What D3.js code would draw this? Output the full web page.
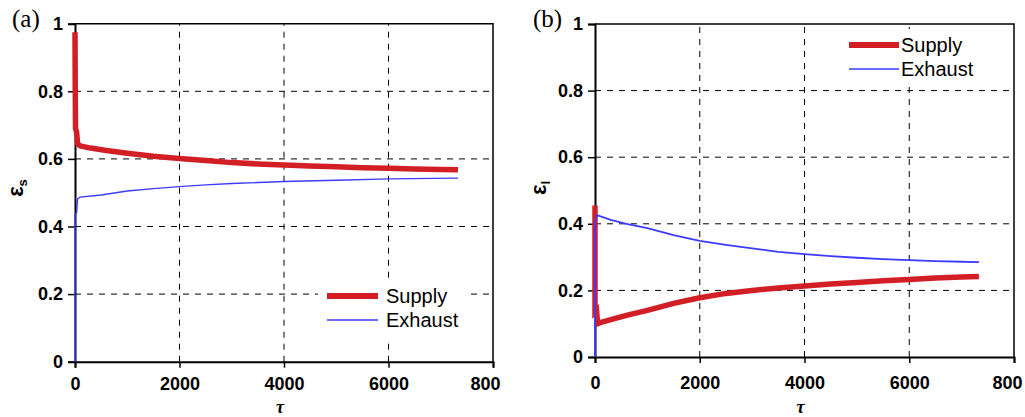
<!DOCTYPE html>
<html>
<head>
<meta charset="utf-8">
<script src="https://cdn.jsdelivr.net/npm/d3@7"></script>
<style>
  html, body { margin: 0; padding: 0; background: #fff; }
  svg { display: block; }
</style>
</head>
<body>
<svg id="chart" width="1025" height="417"></svg>
<script>
// ---- data ----
const xTicks = [0, 2000, 4000, 6000, 8000];
const xTickLabels = ["0", "2000", "4000", "6000", "800"];
const yTicks = [0, 0.2, 0.4, 0.6, 0.8, 1];
const yTickLabels = ["0", "0.2", "0.4", "0.6", "0.8", "1"];
const seriesNames = ["Supply", "Exhaust"];

// panel (a): sensible effectiveness
const aSupplyTau = [0, 5, 10, 30, 50, 100, 300, 600, 1000, 1500, 2000, 2500, 3000, 3500, 4000, 4500, 5000, 5500, 6000, 6500, 7000, 7330];
const aSupplyEps = [0.975, 0.80, 0.69, 0.68, 0.645, 0.638, 0.632, 0.625, 0.617, 0.608, 0.601, 0.595, 0.589, 0.585, 0.582, 0.579, 0.577, 0.574, 0.572, 0.570, 0.569, 0.568];
const aExhaustTau = [0, 0, 30, 50, 100, 500, 1000, 1500, 2000, 2500, 3000, 3500, 4000, 5000, 6000, 7330];
const aExhaustEps = [0, 0.435, 0.44, 0.482, 0.487, 0.493, 0.505, 0.512, 0.518, 0.523, 0.527, 0.530, 0.533, 0.537, 0.541, 0.543];

// panel (b): latent effectiveness
const bSupplyTau = [0, 0, 30, 50, 100, 300, 600, 1000, 1500, 2000, 2500, 3000, 3500, 4000, 4500, 5000, 5500, 6000, 6500, 7000, 7330];
const bSupplyEps = [0.455, 0.135, 0.14, 0.100, 0.103, 0.112, 0.125, 0.140, 0.161, 0.178, 0.191, 0.200, 0.207, 0.213, 0.219, 0.224, 0.229, 0.233, 0.237, 0.240, 0.242];
const bExhaustTau = [0, 0, 20, 40, 300, 600, 1000, 1500, 2000, 2500, 3000, 3500, 4000, 4500, 5000, 5500, 6000, 6500, 7000, 7330];
const bExhaustEps = [0, 0.40, 0.415, 0.426, 0.412, 0.400, 0.387, 0.366, 0.349, 0.337, 0.326, 0.316, 0.309, 0.303, 0.298, 0.294, 0.291, 0.288, 0.286, 0.285];

// ---- drawing ----
const svg = d3.select("#chart");
const RED = "#d21f26", BLUE = "#3c3cff";
const SANS = "'Liberation Sans', Arial, sans-serif";
const SERIF = "'Liberation Serif', 'Times New Roman', serif";

function zip(t, e) { return t.map((v, i) => [v, e[i]]); }

function drawPanel(cfg) {
  const x = d3.scaleLinear().domain([0, 8000]).range([cfg.x0, cfg.x1]);
  const y = d3.scaleLinear().domain([0, 1]).range([cfg.y0, cfg.y1]);
  const g = svg.append("g");

  // grid
  g.append("g").selectAll("line").data(xTicks.slice(1, -1)).join("line")
    .attr("x1", d => x(d)).attr("x2", d => x(d)).attr("y1", y(0)).attr("y2", y(1))
    .attr("stroke", "#000").attr("stroke-width", 1).attr("stroke-dasharray", "6,6");
  g.append("g").selectAll("line").data(yTicks.slice(1, -1)).join("line")
    .attr("x1", x(0)).attr("x2", x(8000)).attr("y1", d => y(d)).attr("y2", d => y(d))
    .attr("stroke", "#000").attr("stroke-width", 1).attr("stroke-dasharray", "6,6");

  // frame top/right
  g.append("path")
    .attr("d", `M${x(0)},${y(1)}H${x(8000)}V${y(0)}`)
    .attr("fill", "none").attr("stroke", "#000").attr("stroke-width", 1.5);

  // axes
  const xa = g.append("g").attr("transform", `translate(0,${y(0)})`)
    .call(d3.axisBottom(x).tickValues(xTicks).tickSize(6).tickPadding(cfg.xPad)
      .tickFormat((d, i) => xTickLabels[i]));
  const ya = g.append("g").attr("transform", `translate(${x(0)},0)`)
    .call(d3.axisLeft(y).tickValues(yTicks).tickSize(7).tickPadding(5)
      .tickFormat((d, i) => yTickLabels[i]));
  [xa, ya].forEach(a => {
    a.select(".domain").attr("stroke", "#000").attr("stroke-width", 2);
    a.selectAll(".tick line").attr("stroke", "#000").attr("stroke-width", 1.5);
    a.selectAll(".tick text").attr("fill", "#000")
      .style("font-family", SANS).style("font-weight", "bold").style("font-size", "18px");
  });
  xa.selectAll(".tick text").filter((d, i) => i === xTicks.length - 1).attr("dx", cfg.lastDx);

  // series
  const line = d3.line().x(d => x(d[0])).y(d => y(d[1]));
  g.append("path").datum(cfg.supply).attr("d", line)
    .attr("fill", "none").attr("stroke", RED).attr("stroke-width", 5.5);
  g.append("path").datum(cfg.exhaust).attr("d", line)
    .attr("fill", "none").attr("stroke", BLUE).attr("stroke-width", cfg.blueW);

  // legend
  const L = cfg.legend;
  g.append("rect").attr("x", L.bx).attr("y", L.by).attr("width", L.bw).attr("height", L.bh).attr("fill", "#fff");
  const styles = [{ c: RED, w: 6 }, { c: BLUE, w: 1.5 }];
  seriesNames.forEach((name, i) => {
    const ly = L.y + i * L.dy;
    g.append("line").attr("x1", L.lx1).attr("x2", L.lx2).attr("y1", ly).attr("y2", ly)
      .attr("stroke", styles[i].c).attr("stroke-width", styles[i].w);
    g.append("text").attr("x", L.tx).attr("y", ly + 7).text(name)
      .style("font-family", SANS).style("font-size", "20px").attr("fill", "#000");
  });

  // axis titles
  g.append("text").attr("x", (cfg.x0 + cfg.x1) / 2 - 4).attr("y", 412.5).attr("text-anchor", "middle")
    .style("font-family", SERIF).style("font-weight", "bold").style("font-style", "italic")
    .style("font-size", "18px").text("τ");
  const yl = g.append("text").attr("transform", `translate(${cfg.ylx},${cfg.yly}) rotate(-90)`)
    .attr("text-anchor", "middle")
    .style("font-family", SANS).style("font-weight", "bold").style("font-size", "22px");
  yl.append("tspan").text("ε");
  yl.append("tspan").attr("dy", 4).style("font-size", "13px").text(cfg.sub);

  // panel label
  g.append("text").attr("x", cfg.px).attr("y", 27)
    .style("font-family", SERIF).style("font-size", "25px").text(cfg.plabel);
}

drawPanel({
  x0: 75, x1: 493, y0: 361.7, y1: 23.7, xPad: 10, lastDx: -8, blueW: 1.4,
  supply: zip(aSupplyTau, aSupplyEps), exhaust: zip(aExhaustTau, aExhaustEps),
  legend: { bx: 318, by: 281, bw: 153, bh: 60, lx1: 327, lx2: 378, tx: 386, y: 296, dy: 24 },
  ylx: 23, yly: 188, sub: "s", px: 12, plabel: "(a)"
});
drawPanel({
  x0: 595, x1: 1014, y0: 357, y1: 24, xPad: 13, lastDx: -7, blueW: 1.8,
  supply: zip(bSupplyTau, bSupplyEps), exhaust: zip(bExhaustTau, bExhaustEps),
  legend: { bx: 834, by: 29, bw: 163, bh: 57, lx1: 849, lx2: 899, tx: 901, y: 45, dy: 24 },
  ylx: 546, yly: 188, sub: "l", px: 533, plabel: "(b)"
});
</script>
</body>
</html>
